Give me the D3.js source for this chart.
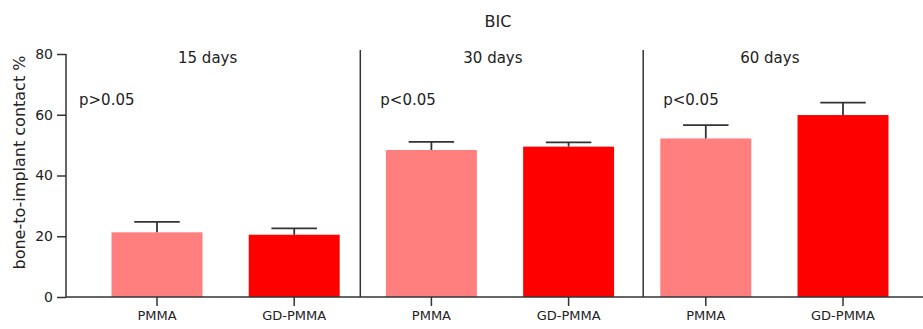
<!DOCTYPE html>
<html>
<head>
<meta charset="utf-8">
<script src="https://cdn.jsdelivr.net/npm/d3@7/dist/d3.min.js"></script>
<style>
  body { margin: 0; background: #fff; }
  svg text { font-family: "DejaVu Sans", sans-serif; fill: #222; }
</style>
</head>
<body>
<svg id="chart" width="923" height="329"></svg>
<script>
// Bone-to-implant contact (%) at three healing times
const periods = ["15 days", "30 days", "60 days"];
const materials = ["PMMA", "GD-PMMA"];
const pLabels = ["p>0.05", "p<0.05", "p<0.05"];
const pmmaMean = [21.3, 48.4, 52.2];
const pmmaSD = [3.4, 2.7, 4.4];
const gdMean = [20.5, 49.5, 59.9];
const gdSD = [2.1, 1.4, 4.1];
const yTicks = [0, 20, 40, 60, 80];
const colors = { "PMMA": "#ff7f7f", "GD-PMMA": "#ff0000" };

const rows = [];
periods.forEach((p, i) => {
  rows.push({ period: p, material: "PMMA", mean: pmmaMean[i], sd: pmmaSD[i], key: p + "|PMMA" });
  rows.push({ period: p, material: "GD-PMMA", mean: gdMean[i], sd: gdSD[i], key: p + "|GD-PMMA" });
});

const svg = d3.select("#chart");
const axisColor = "#333";
const plotLeft = 66, plotRight = 923, plotTop = 54, plotBottom = 297;

const y = d3.scaleLinear().domain([0, 80]).range([plotBottom, plotTop]);
const pad = 0.337;
const x = d3.scaleBand()
  .domain(rows.map(d => d.key))
  .range([88.4, 911.6])
  .paddingInner(pad)
  .paddingOuter(pad / 2);

// bars
svg.append("g").selectAll("rect").data(rows).join("rect")
  .attr("x", d => x(d.key))
  .attr("y", d => y(d.mean))
  .attr("width", x.bandwidth())
  .attr("height", d => y(0) - y(d.mean))
  .attr("fill", d => colors[d.material]);

// error bars (upper only)
const eb = svg.append("g").attr("stroke", axisColor).attr("stroke-width", 1.8);
rows.forEach(d => {
  const cx = x(d.key) + x.bandwidth() / 2;
  const half = x.bandwidth() / 4;
  eb.append("line").attr("x1", cx).attr("x2", cx)
    .attr("y1", y(d.mean)).attr("y2", y(d.mean + d.sd));
  eb.append("line").attr("x1", cx - half).attr("x2", cx + half)
    .attr("y1", y(d.mean + d.sd)).attr("y2", y(d.mean + d.sd));
});

// y axis
const yAxis = svg.append("g").attr("transform", `translate(${plotLeft},0)`)
  .call(d3.axisLeft(y).tickValues(yTicks).tickSize(9).tickPadding(4));
yAxis.select(".domain").remove();
yAxis.append("line").attr("x1", 0).attr("x2", 0).attr("y1", plotTop).attr("y2", plotBottom)
  .attr("stroke", axisColor).attr("stroke-width", 1.5);
yAxis.selectAll(".tick line").attr("stroke", axisColor).attr("stroke-width", 1.5);
yAxis.selectAll(".tick text").attr("font-size", 14).style("fill", "#222")
  .attr("font-family", "DejaVu Sans, sans-serif");

// x axis
const xAxis = svg.append("g").attr("transform", `translate(0,${plotBottom})`)
  .call(d3.axisBottom(x).tickSize(9).tickPadding(5).tickFormat(k => k.split("|")[1]));
xAxis.select(".domain").remove();
xAxis.append("line").attr("x1", plotLeft).attr("x2", plotRight).attr("y1", 0).attr("y2", 0)
  .attr("stroke", axisColor).attr("stroke-width", 1.5);
xAxis.selectAll(".tick line").attr("stroke", axisColor).attr("stroke-width", 1.5);
xAxis.selectAll(".tick text").attr("font-size", 13).style("fill", "#222")
  .attr("font-family", "DejaVu Sans, sans-serif");

// panel dividers between time points (nudged from the gap midpoint)
const step = x.step();
const dividerShift = [-2.5, 6];
const bounds = [plotLeft];
periods.forEach((p, i) => {
  if (i > 0) bounds.push(x(p + "|PMMA") + x.bandwidth() / 2 - step / 2 + dividerShift[i - 1]);
});
bounds.push(plotRight);
bounds.slice(1, -1).forEach(bx => {
  svg.append("line").attr("x1", bx).attr("x2", bx).attr("y1", 50).attr("y2", plotBottom)
    .attr("stroke", axisColor).attr("stroke-width", 1.5);
});

// panel titles and p-values
const titleInset = [112, 103, 97];
periods.forEach((p, i) => {
  svg.append("text").attr("x", bounds[i] + titleInset[i]).attr("y", 63)
    .attr("font-size", 15).text(p);
  svg.append("text").attr("x", i === 0 ? bounds[i] + 13 : bounds[i] + 20).attr("y", 105)
    .attr("font-size", 15).text(pLabels[i]);
});

// chart title
svg.append("text").attr("x", 498).attr("y", 27).attr("text-anchor", "middle")
  .attr("font-size", 16).text("BIC");

// y axis title
svg.append("text")
  .attr("transform", `translate(25,${(plotTop + plotBottom) / 2 - 13}) rotate(-90)`)
  .attr("text-anchor", "middle").attr("font-size", 16)
  .text("bone-to-implant contact %");
</script>
</body>
</html>
